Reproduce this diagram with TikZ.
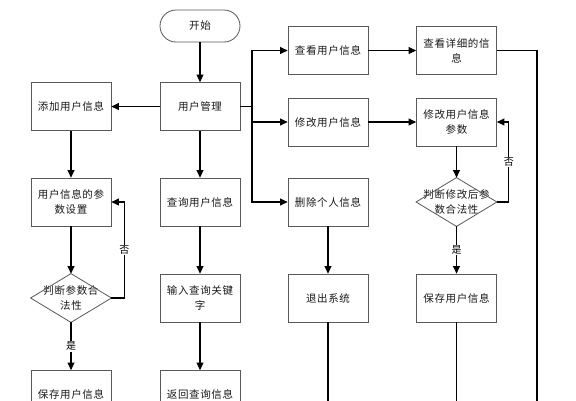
\documentclass[tikz,border=0pt]{standalone}
\usepackage{fontspec}
\setmainfont{Noto Sans CJK SC}[LetterSpace=6]
\usetikzlibrary{arrows.meta}
\begin{document}
\begin{tikzpicture}[x=1pt,y=-1pt,
 box/.style={draw=black!65, line width=0.8pt, fill=white, minimum width=80pt, minimum height=48pt, inner sep=0pt, align=center, font=\fontsize{10.5}{15}\selectfont, text=black!90},
 term/.style={box, rounded corners=16pt, minimum height=32pt},
 dia/.style={box, draw=none, fill=none},
 diaedge/.style={draw=black!65, line width=0.8pt},
 arr/.style={line width=1.1pt, -{Triangle[length=7.5pt,width=7pt]}},
 ln/.style={line width=1.1pt},
 lab/.style={fill=white, inner sep=1pt, font=\fontsize{10}{12}\selectfont}]
\useasboundingbox (0,0) rectangle (576,400);
\clip (0,0) rectangle (576,400);
\fill[white] (0,0) rectangle (576,400);

\node[term] (start) at (200,26) {开始};
\node[box] (um) at (200,106.5) {用户管理};
\node[box] (add) at (71,106.5) {添加用户信息};
\node[box] (param) at (71,202) {用户信息的参\\数设置};
\node[dia] (d1) at (71,298) {判断参数合\\法性};
\draw[diaedge] (d1.north) -- (d1.east) -- (d1.south) -- (d1.west) -- cycle;
\node[box] (save1) at (71,394.5) {保存用户信息};
\node[box] (query) at (200,202) {查询用户信息};
\node[box] (input) at (200,298) {输入查询关键\\字};
\node[box] (ret) at (200,394.5) {返回查询信息};
\node[box] (view) at (328,50.5) {查看用户信息};
\node[box] (mod) at (328,122) {修改用户信息};
\node[box] (del) at (328,202) {删除个人信息};
\node[box] (exit) at (328,298) {退出系统};
\node[box] (detail) at (456.5,50.5) {查看详细的信\\息};
\node[box] (modp) at (456.5,122) {修改用户信息\\参数};
\node[dia] (d2) at (456.5,202) {判断修改后参\\数合法性};
\draw[diaedge] (d2.north) -- (d2.east) -- (d2.south) -- (d2.west) -- cycle;
\node[box] (save2) at (456.5,298) {保存用户信息};

\coordinate (bx) at (252,106.5);
\coordinate (e1) at (328,405);
\coordinate (e2) at (456.5,405);
\coordinate (e3) at (537,405);

\draw[arr] (start) -- (um);
\draw[arr] (um) -- (add);
\draw[arr] (um) -- (query);
\draw[arr] (add) -- (param);
\draw[arr] (param) -- (d1.north);
\draw[arr] (d1.south) -- node[lab]{是} (save1);
\draw[arr] (d1.east) -- ++(13,0) |- node[lab,pos=0.25]{否} (param.east);
\draw[arr] (query) -- (input);
\draw[arr] (input) -- (ret);
\draw[ln] (um.east) -- (bx);
\draw[arr] (bx) |- (view.west);
\draw[arr] (bx) |- (mod.west);
\draw[arr] (bx) |- (del.west);
\draw[arr] (view) -- (detail);
\draw[arr] (mod) -- (modp);
\draw[arr] (modp) -- (d2.north);
\draw[arr] (d2.south) -- node[lab]{是} (save2);
\draw[arr] (d2.east) -- ++(12,0) |- node[lab,pos=0.25]{否} (modp.east);
\draw[arr] (del) -- (exit);
\draw[ln] (exit.south) -- (e1);
\draw[ln] (save2.south) -- (e2);
\draw[ln] (detail.east) -| (e3);
\end{tikzpicture}
\end{document}
